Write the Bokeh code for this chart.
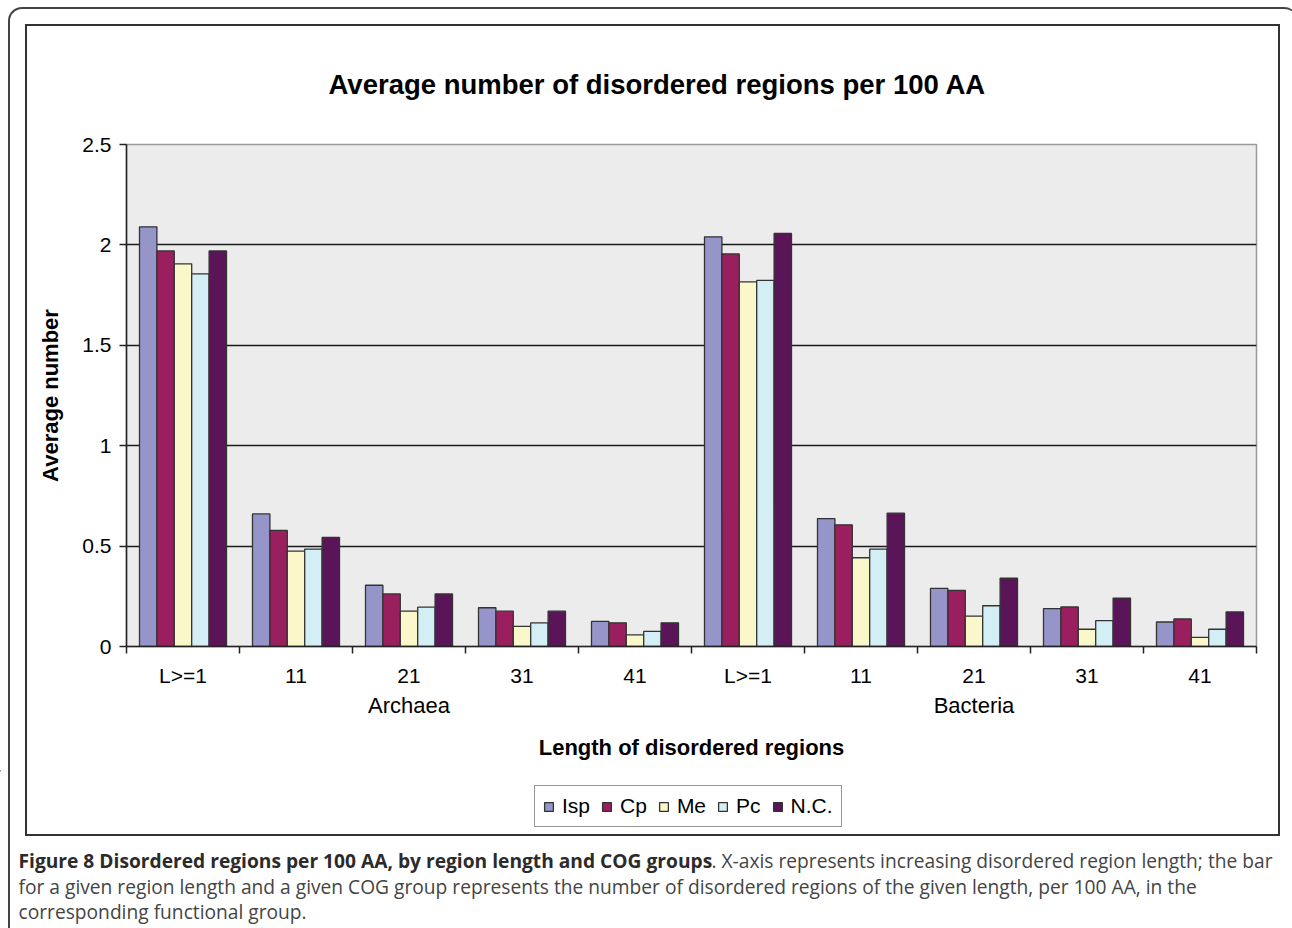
from bokeh.plotting import figure
from bokeh.models import (Range1d, LinearAxis, FixedTicker, Title, InlineStyleSheet,
                          Legend, LegendItem, ColumnDataSource)
from bokeh.core.properties import value
from bokeh.transform import dodge
from bokeh.embed import file_html
from bokeh.resources import INLINE

# ---------------- data ----------------
groups = ["Archaea", "Bacteria"]
lengths = ["L>=1", "11", "21", "31", "41"]
series_names = ["Isp", "Cp", "Me", "Pc", "N.C."]
isp = [2.09, 0.66, 0.305, 0.193, 0.125, 2.04, 0.637, 0.289, 0.189, 0.122]
cp = [1.97, 0.578, 0.262, 0.176, 0.118, 1.955, 0.606, 0.28, 0.197, 0.137]
me = [1.906, 0.475, 0.176, 0.10, 0.058, 1.816, 0.442, 0.151, 0.086, 0.045]
pc = [1.856, 0.485, 0.196, 0.118, 0.075, 1.823, 0.485, 0.203, 0.129, 0.086]
nc = [1.97, 0.543, 0.262, 0.176, 0.118, 2.057, 0.664, 0.34, 0.241, 0.172]
yticks = [0, 0.5, 1, 1.5, 2, 2.5]
ytick_labels = ["0", "0.5", "1", "1.5", "2", "2.5"]

title_text = "Average number of disordered regions per 100 AA"
ylabel_text = "Average number"
xlabel_text = "Length of disordered regions"
caption_bold = "Figure 8 Disordered regions per 100 AA, by region length and COG groups"
caption_l1 = ". X-axis represents increasing disordered region length; the bar"
caption_l2 = "for a given region length and a given COG group represents the number of disordered regions of the given length, per 100 AA, in the"
caption_l3 = "corresponding functional group."

colors = ["#9595C9", "#9A1F5E", "#FAF8CB", "#D3EEF4", "#5A1458"]

# ---------------- layout (page px) ----------------
PW = 1292
CH = 770                                # chart canvas height (page y 0..770)
FL, FR, FT, FB = 126, 1256, 144, 646    # plot frame edges on the page

cats = [(g, l) for g in groups for l in lengths]
ncat = len(cats)
centers = [i + 0.5 for i in range(ncat)]
values = [isp, cp, me, pc, nc]
data = {"x": centers}
for name, vals in zip(series_names, values):
    data[name] = vals
src = ColumnDataSource(data)

FONT = "Liberation Sans"

frames_css = InlineStyleSheet(css="""
:host { position: relative; }
:host::before {
  content: ""; position: absolute; left: 8px; top: 7px; width: 1290px; height: 921px;
  box-sizing: border-box; border-top: 2px solid #444; border-left: 2px solid #444;
  border-top-left-radius: 14px; border-top-right-radius: 14px;
  pointer-events: none; z-index: 100;
}
:host::after {
  content: ""; position: absolute; left: 25px; top: 24px; width: 1255px; height: 812px;
  box-sizing: border-box; border: 2px solid #333;
  pointer-events: none; z-index: 100;
}
""")

p = figure(frame_width=FR - FL, frame_height=FB - FT,
           x_range=Range1d(0, ncat), y_range=Range1d(0, 2.5),
           x_axis_location=None,
           output_backend="svg", toolbar_location=None,
           min_border_left=FL, min_border_right=PW - FR,
           min_border_top=FT, min_border_bottom=CH - FB,
           stylesheets=[frames_css])
p.background_fill_color = "#ECECEC"
p.border_fill_color = "white"
p.outline_line_color = "#9a9a9a"
p.outline_line_width = 1.5
p.xgrid.visible = False

p.title = Title(text=title_text, align="left", offset=328 - FL,
                text_font=FONT, text_font_size="27.5px", text_font_style="bold",
                text_color="black", standoff=89)

# y axis
yax = p.yaxis[0]
yax.ticker = FixedTicker(ticks=yticks)
yax.major_label_overrides = {t: s for t, s in zip(yticks, ytick_labels)}
yax.major_label_text_font = FONT
yax.major_label_text_font_size = "21px"
yax.major_label_text_color = "black"
yax.major_label_standoff = 8
yax.major_tick_out = 7
yax.major_tick_in = 0
yax.minor_tick_line_color = None
yax.axis_line_color = "#222222"
yax.axis_line_width = 1.5
yax.major_tick_line_color = "#222222"
yax.major_tick_line_width = 1.5
yax.axis_label = ylabel_text
yax.axis_label_text_font = FONT
yax.axis_label_text_font_size = "22px"
yax.axis_label_text_font_style = "bold"
yax.axis_label_text_color = "black"
yax.axis_label_standoff = 16

p.ygrid.ticker = FixedTicker(ticks=yticks[1:-1])
p.ygrid.grid_line_color = "#1a1a1a"
p.ygrid.grid_line_width = 1.5

# axis 1: boundary ticks
bounds = list(range(ncat + 1))
tax = LinearAxis(ticker=FixedTicker(ticks=bounds))
tax.major_label_overrides = {b: "" for b in bounds}
tax.major_label_text_font_size = "0px"
tax.major_label_standoff = 0
tax.major_tick_out = 7
tax.major_tick_in = 0
tax.minor_tick_line_color = None
tax.axis_line_color = "#222222"
tax.axis_line_width = 1.5
tax.major_tick_line_color = "#222222"
tax.major_tick_line_width = 1.5
p.add_layout(tax, "below")

# axis 2: length labels
lax = LinearAxis(ticker=FixedTicker(ticks=centers))
lax.major_label_overrides = {c: cat[1] for c, cat in zip(centers, cats)}
lax.axis_line_color = None
lax.major_tick_line_color = None
lax.minor_tick_line_color = None
lax.major_label_text_font = FONT
lax.major_label_text_font_size = "21px"
lax.major_label_text_color = "black"
lax.major_label_standoff = 4
p.add_layout(lax, "below")

# axis 3: group labels + axis title
gcenters = [gi * len(lengths) + len(lengths) / 2 for gi in range(len(groups))]
gax = LinearAxis(ticker=FixedTicker(ticks=gcenters))
gax.major_label_overrides = {c: g for c, g in zip(gcenters, groups)}
gax.axis_line_color = None
gax.major_tick_line_color = None
gax.minor_tick_line_color = None
gax.major_label_text_font = FONT
gax.major_label_text_font_size = "22px"
gax.major_label_text_color = "black"
gax.major_label_standoff = -3
gax.axis_label = xlabel_text
gax.axis_label_text_font = FONT
gax.axis_label_text_font_size = "22px"
gax.axis_label_text_font_style = "bold"
gax.axis_label_text_color = "black"
gax.axis_label_standoff = 14
p.add_layout(gax, "below")

# bars
bw = 0.154
for i, (name, col) in enumerate(zip(series_names, colors)):
    p.vbar(x=dodge("x", (i - (len(series_names) - 1) / 2) * bw),
           top=name, width=bw, source=src, fill_color=col,
           line_color="#333333", line_width=1.3)

# ---------------- second canvas: legend + caption (page y 770..926) ----------------
BH = 156
BY = CH  # page y of the second canvas top
bot = figure(width=PW, height=BH, x_range=Range1d(0, PW), y_range=Range1d(BH, 0),
             output_backend="svg", toolbar_location=None, title=None,
             min_border=0, x_axis_location=None, y_axis_location=None)
bot.outline_line_color = None
bot.grid.visible = False
bot.border_fill_color = "white"
bot.background_fill_color = "white"

# legend keys: one off-canvas sample per series, same colours / outlines as the bars
key_src = ColumnDataSource(dict(x=[-PW], top=[0]))
items = []
for name, col in zip(series_names, colors):
    r = bot.vbar(x="x", top="top", width=1, source=key_src,
                 fill_color=col, line_color="#333333", line_width=1.3)
    items.append(LegendItem(label=name, renderers=[r]))
legend = Legend(items=items, orientation="horizontal", location=(534, BH - (827 - BY)),
                border_line_color="#333333", border_line_width=1.5,
                background_fill_color="white", background_fill_alpha=1,
                label_text_font=FONT, label_text_font_size="21px", label_text_color="black",
                glyph_width=11, glyph_height=11, spacing=11, label_standoff=8,
                padding=8, margin=0)
bot.add_layout(legend, "center")

CF = value("Open Sans")
CS = value("19.2px")
bot.text(x=[18], y=[860 - BY], text=[caption_bold], text_font=CF, text_font_size=CS,
         text_font_style="bold", text_baseline="middle", text_align="left", text_color="#2b2b2b")
bot.text(x=[711], y=[860 - BY], text=[caption_l1], text_font=CF, text_font_size=CS,
         text_baseline="middle", text_align="left", text_color="#444444")
bot.text(x=[18, 18], y=[886 - BY, 911 - BY], text=[caption_l2, caption_l3],
         text_font=CF, text_font_size=CS,
         text_baseline="middle", text_align="left", text_color="#444444")

open("out.html", "w").write(file_html([p, bot], INLINE))
